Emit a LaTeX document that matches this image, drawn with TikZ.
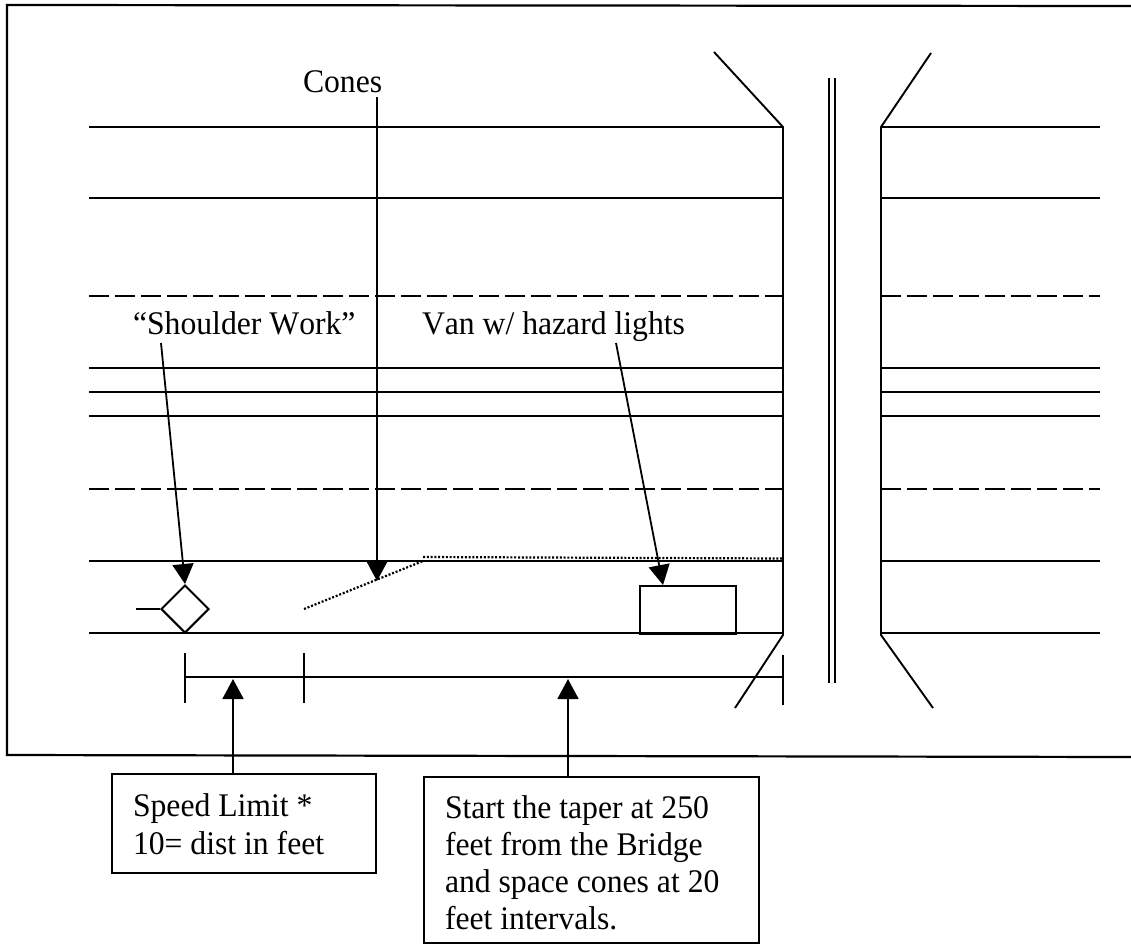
\documentclass[tikz,border=0pt]{standalone}
\usepackage{fontspec}
\setmainfont[FakeStretch=0.96,Kerning=Off]{Liberation Serif}
\usetikzlibrary{arrows.meta,shapes.geometric}
\tikzset{
  road/.style={line width=2.1pt,black},
  roaddash/.style={line width=2.1pt,black,dash pattern=on 19.5pt off 6.5pt},
  thin line/.style={line width=1.9pt,black},
  taper/.style={line width=2.2pt,black,dash pattern=on 2pt off 1.8pt},
  lead/.style={line width=1.8pt,black,-{Triangle[length=20pt,width=21pt]},shorten >=0pt},
  label/.style={inner sep=0pt,outer sep=0pt,anchor=base west,font=\fontsize{33}{37}\selectfont},
  notebox/.style={draw=black,line width=2.2pt,inner sep=0pt,align=flush left,font=\fontsize{33}{37}\selectfont},
  sign/.style={draw=black,line width=2pt,diamond,aspect=1,minimum size=48pt,inner sep=0pt}
}
\begin{document}
\begin{tikzpicture}[x=1pt,y=-1pt]
\useasboundingbox (0,0) rectangle (1131,945);
% frame
\draw[line width=2.2pt] (1131,6) -- (7,5) -- (7,755) -- (1131,757);
% road lines, left and right of the bridge
\foreach \yy in {127,198,368,392,416,561,633}{
  \draw[road] (89,\yy) -- (783,\yy);
  \draw[road] (881,\yy) -- (1100,\yy);
}
\foreach \yy in {296,489}{
  \draw[roaddash] (89,\yy) -- (783,\yy);
  \draw[roaddash] (881,\yy) -- (1100,\yy);
}
% abutments and flares
\draw[thin line] (714,52) -- (783,127) -- (783,635) -- (735,708);
\draw[thin line] (931,53) -- (881,127) -- (881,635) -- (933,708);
% bridge centre
\draw[road] (829,78) -- (829,683);
\draw[road] (835,78) -- (835,683);
% taper
\draw[taper] (304,609) -- (423,561);
\draw[taper] (423,557) -- (783,558.5);
% van
\node[draw=black,line width=2pt,minimum width=96pt,minimum height=48pt,inner sep=0pt] (van) at (688,610) {};
% sign
\node[sign] (sign) at (185,609) {};
\coordinate (stub) at (136,609);
\draw[road] (stub) -- (sign.west);
% dimension line
\coordinate (dimA) at (185,677);
\coordinate (dimB) at (304,677);
\coordinate (dimC) at (783,677);
\draw[road] (dimA) -- (dimC);
\draw[thin line] (185,653) -- (185,703);
\draw[thin line] (304,653) -- (304,703);
\draw[thin line] (783,655) -- (783,705);
% labels
\node[label] (cones) at (303,92) {Cones};
\node[label] (shoulder) at (133,334) {“Shoulder Work”};
\node[label] (vanlabel) at (422,334) {Van w/ hazard lights};
% note boxes
\node[notebox,minimum width=264pt,minimum height=99pt,text width=222pt] (speed) at (244,823.5) {\rule{0pt}{24.5pt}Speed Limit *\\[1pt]10= dist in feet};
\node[notebox,minimum width=335pt,minimum height=166pt,text width=293pt] (start) at (591.5,860) {\rule{0pt}{27.5pt}Start the taper at 250\\feet from the Bridge\\and space cones at 20\\feet intervals.};
% leaders
\coordinate (sFrom) at (161,343);
\coordinate (vFrom) at (616,343);
\coordinate (cFrom) at (377,97);
\coordinate (cTo) at (377,581);
\coordinate (vTo) at (663,585);
\coordinate (dTo) at (233,679);
\coordinate (eTo) at (568,679);
\coordinate (dFrom) at (233,774);
\coordinate (eFrom) at (568,777);
\draw[lead] (sFrom) -- (sign.north);
\draw[lead] (cFrom) -- (cTo);
\draw[lead] (vFrom) -- (vTo);
\draw[lead] (dFrom) -- (dTo);
\draw[lead] (eFrom) -- (eTo);
\end{tikzpicture}
\end{document}
